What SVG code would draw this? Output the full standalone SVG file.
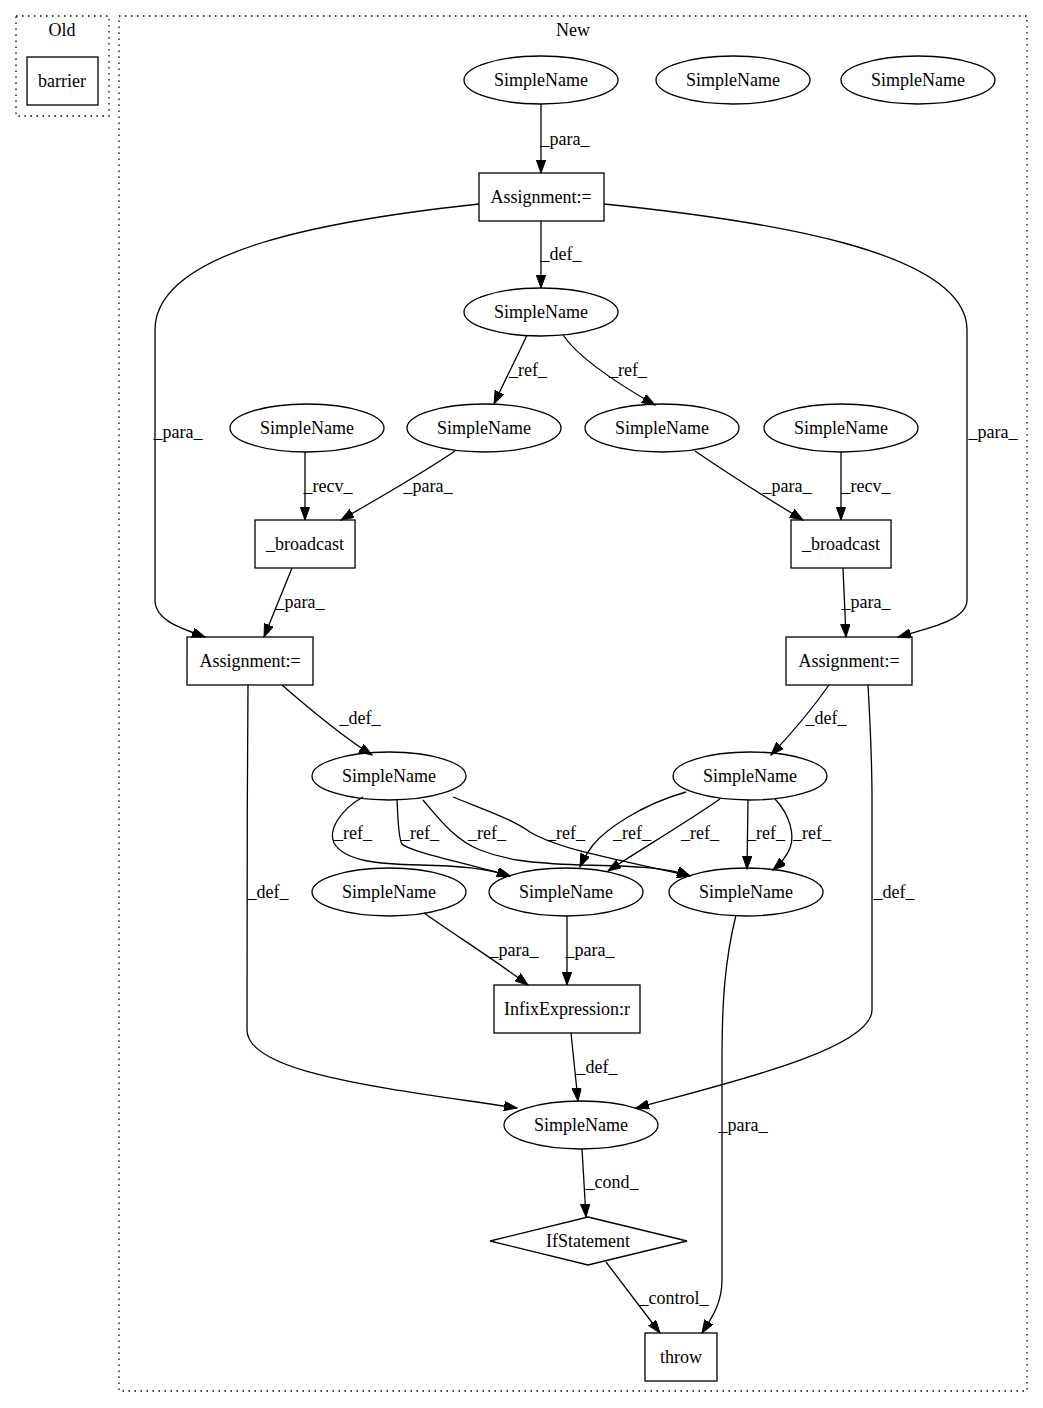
<svg xmlns="http://www.w3.org/2000/svg" width="1043" height="1408" viewBox="0 0 1043 1408">
<style>
text{font-family:"Liberation Serif","Times New Roman",serif;font-size:18px;fill:#000;text-anchor:middle;dominant-baseline:central}
.n{fill:#fff;stroke:#000;stroke-width:1.3}
.c{fill:none;stroke:#000;stroke-width:1.3;stroke-dasharray:1.5,4.5}
.e path{fill:none;stroke:#000;stroke-width:1.3;marker-end:url(#ah)}
</style>
<defs>
<marker id="ah" markerUnits="userSpaceOnUse" markerWidth="14" markerHeight="10" refX="13" refY="4.7" orient="auto">
<path d="M0,0 L13,4.7 L0,9.4 z" fill="#000" stroke="#000" stroke-width="1"/>
</marker>
</defs>
<rect width="1043" height="1408" fill="#fff"/>
<g id="cluster_old">
<rect class="c" x="16" y="16" width="93" height="100"/>
<text x="62" y="30">Old</text>
</g>
<g id="cluster_new">
<rect class="c" x="119" y="16" width="908" height="1375"/>
<text x="573" y="30">New</text>
</g>
<g id="barrier"><rect class="n" x="27" y="57" width="71" height="48"/><text x="62" y="81">barrier</text></g>
<g id="sn1"><ellipse class="n" cx="541" cy="80" rx="77" ry="24"/><text x="541" y="80">SimpleName</text></g>
<g id="sn2"><ellipse class="n" cx="733" cy="80" rx="77" ry="24"/><text x="733" y="80">SimpleName</text></g>
<g id="sn3"><ellipse class="n" cx="918" cy="80" rx="77" ry="24"/><text x="918" y="80">SimpleName</text></g>
<g id="assign1"><rect class="n" x="479" y="173" width="125" height="48"/><text x="541" y="197">Assignment:=</text></g>
<g id="sn4"><ellipse class="n" cx="541" cy="312" rx="77" ry="24"/><text x="541" y="312">SimpleName</text></g>
<g id="sn5"><ellipse class="n" cx="307" cy="428" rx="77" ry="24"/><text x="307" y="428">SimpleName</text></g>
<g id="sn6"><ellipse class="n" cx="484" cy="428" rx="77" ry="24"/><text x="484" y="428">SimpleName</text></g>
<g id="sn7"><ellipse class="n" cx="662" cy="428" rx="77" ry="24"/><text x="662" y="428">SimpleName</text></g>
<g id="sn8"><ellipse class="n" cx="841" cy="428" rx="77" ry="24"/><text x="841" y="428">SimpleName</text></g>
<g id="bc1"><rect class="n" x="255" y="520" width="100" height="48"/><text x="305" y="544">_broadcast</text></g>
<g id="bc2"><rect class="n" x="791" y="520" width="100" height="48"/><text x="841" y="544">_broadcast</text></g>
<g id="assign2"><rect class="n" x="187" y="637" width="126" height="48"/><text x="250" y="661">Assignment:=</text></g>
<g id="assign3"><rect class="n" x="786" y="637" width="126" height="48"/><text x="849" y="661">Assignment:=</text></g>
<g id="sn9"><ellipse class="n" cx="389" cy="776" rx="77" ry="24"/><text x="389" y="776">SimpleName</text></g>
<g id="sn10"><ellipse class="n" cx="750" cy="776" rx="77" ry="24"/><text x="750" y="776">SimpleName</text></g>
<g id="sn11"><ellipse class="n" cx="389" cy="892" rx="77" ry="24"/><text x="389" y="892">SimpleName</text></g>
<g id="sn12"><ellipse class="n" cx="566" cy="892" rx="77" ry="24"/><text x="566" y="892">SimpleName</text></g>
<g id="sn13"><ellipse class="n" cx="746" cy="892" rx="77" ry="24"/><text x="746" y="892">SimpleName</text></g>
<g id="infix"><rect class="n" x="494" y="985" width="146" height="48"/><text x="567" y="1009">InfixExpression:r</text></g>
<g id="sn14"><ellipse class="n" cx="581" cy="1125" rx="77" ry="24"/><text x="581" y="1125">SimpleName</text></g>
<g id="ifstmt"><polygon class="n" points="588,1217 687,1241 588,1265 490,1241"/><text x="588" y="1241">IfStatement</text></g>
<g id="throw"><rect class="n" x="645" y="1333" width="72" height="48"/><text x="681" y="1357">throw</text></g>
<g id="edges" class="e">
<path d="M541,104 L541,173"/>
<path d="M541,221 L541,288"/>
<path d="M479,204 C330,220 155,250 155,330 L155,600 C155,620 180,628 205,637"/>
<path d="M604,204 C760,220 967,250 967,330 L967,600 C967,620 930,628 898,637"/>
<path d="M527,335 C518,355 505,380 494,404"/>
<path d="M563,335 C580,360 620,385 655,405"/>
<path d="M305,452 L305,520"/>
<path d="M455,451 C420,475 375,500 341,520"/>
<path d="M695,451 C730,475 770,500 803,520"/>
<path d="M841,452 L841,520"/>
<path d="M292,568 L264,637"/>
<path d="M843,568 L846,637"/>
<path d="M282,685 C305,705 340,735 372,755"/>
<path d="M829,685 C815,705 790,735 771,755"/>
<path d="M248,685 C247,800 247,950 247,1030 C247,1075 400,1090 517,1108"/>
<path d="M868,685 C870,720 872,760 872,800 L872,1010 C872,1050 720,1085 636,1108"/>
<path d="M363,797 C340,810 328,830 334,843 C345,862 380,864 420,865 C460,866 485,868 510,876"/>
<path d="M397,800 C398,815 398,838 402,844 C410,852 470,864 510,876"/>
<path d="M423,800 C440,820 455,840 480,850 C505,860 530,863 580,865 C640,866 670,868 690,876"/>
<path d="M453,797 C480,808 510,818 530,832 C560,850 620,860 690,876"/>
<path d="M686,792 C640,805 605,830 593,845 C587,853 583,860 580,867"/>
<path d="M720,799 C690,820 640,850 608,871"/>
<path d="M748,800 L747,869"/>
<path d="M775,799 C790,815 795,835 790,848 C786,858 780,864 773,870"/>
<path d="M424,913 C455,935 495,960 528,985"/>
<path d="M567,916 L567,985"/>
<path d="M571,1033 L578,1101"/>
<path d="M582,1149 L586,1217"/>
<path d="M606,1262 L660,1333"/>
<path d="M736,915 C725,960 722,1000 722,1060 L722,1280 C722,1305 710,1320 702,1333"/>
</g>
<g id="labels">
<text x="565" y="139">_para_</text>
<text x="561" y="254">_def_</text>
<text x="178" y="432">_para_</text>
<text x="993" y="432">_para_</text>
<text x="528" y="370">_ref_</text>
<text x="628" y="370">_ref_</text>
<text x="328" y="486">_recv_</text>
<text x="428" y="486">_para_</text>
<text x="787" y="486">_para_</text>
<text x="866" y="486">_recv_</text>
<text x="300" y="602">_para_</text>
<text x="866" y="602">_para_</text>
<text x="360" y="718">_def_</text>
<text x="826" y="718">_def_</text>
<text x="268" y="892">_def_</text>
<text x="894" y="892">_def_</text>
<text x="353" y="833">_ref_</text>
<text x="420" y="833">_ref_</text>
<text x="487" y="833">_ref_</text>
<text x="566" y="833">_ref_</text>
<text x="632" y="833">_ref_</text>
<text x="700" y="833">_ref_</text>
<text x="766" y="833">_ref_</text>
<text x="812" y="833">_ref_</text>
<text x="514" y="950">_para_</text>
<text x="590" y="950">_para_</text>
<text x="597" y="1067">_def_</text>
<text x="612" y="1182">_cond_</text>
<text x="674" y="1298">_control_</text>
<text x="743" y="1125">_para_</text>
</g>
</svg>
